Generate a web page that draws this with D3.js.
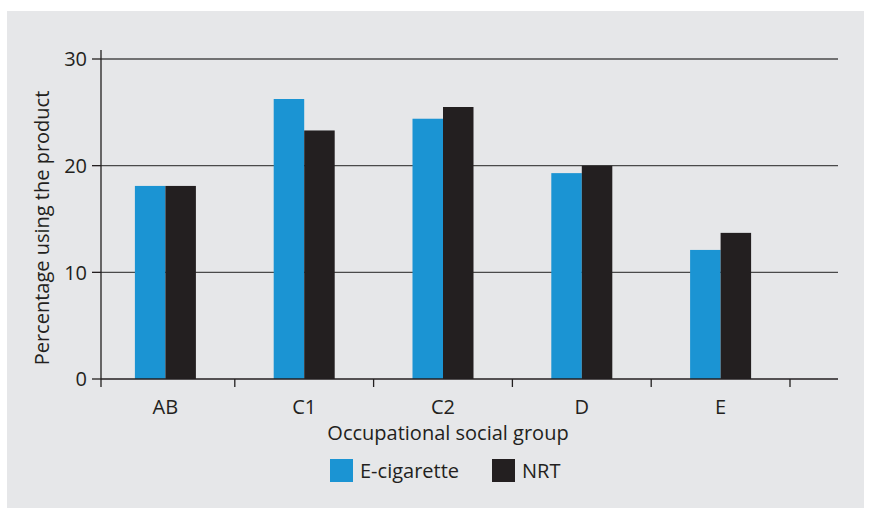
<!DOCTYPE html>
<html><head><meta charset="utf-8">
<script src="https://cdn.jsdelivr.net/npm/d3@7"></script>
<style>body{margin:0;background:#fff}svg{display:block}text{font-family:"Open Sans",sans-serif;fill:#231f20}</style>
</head><body><svg id="c" width="871" height="513"></svg>
<script>
const categories = ["AB","C1","C2","D","E"];
const seriesNames = ["E-cigarette","NRT"];
const ecig = [18.1, 26.25, 24.4, 19.3, 12.1];
const nrt = [18.1, 23.3, 25.5, 20.0, 13.7];
const yTicks = [0,10,20,30];
const colors = ["#1b94d3","#231f20"];

const svg = d3.select("#c");
svg.append("rect").attr("x",7).attr("y",11).attr("width",857).attr("height",497).attr("fill","#e6e7e9");

const x0 = d3.scaleBand().domain(categories).range([96,790]);
const x1 = d3.scaleBand().domain(seriesNames).range([-30.5,30.5]);
const y = d3.scaleLinear().domain([0,30]).range([379,59]);
const axisL = 101, axisR = 838;
const fs = 20;

// gridlines
svg.append("g").selectAll("line").data(yTicks.filter(d=>d>0)).join("line")
  .attr("x1",axisL).attr("x2",axisR).attr("y1",d=>y(d)).attr("y2",d=>y(d))
  .attr("stroke","#4a4a4a").attr("stroke-width",1.3);

// bars
const data = categories.map((c,i)=>({c, vals:[ecig[i], nrt[i]]}));
const g = svg.append("g").selectAll("g").data(data).join("g")
  .attr("transform",d=>`translate(${x0(d.c)+x0.bandwidth()/2},0)`);
g.selectAll("rect").data(d=>d.vals.map((v,j)=>({v,s:seriesNames[j],j}))).join("rect")
  .attr("x",d=>x1(d.s)).attr("width",x1.bandwidth()).attr("y",d=>y(d.v)).attr("height",d=>y(0)-y(d.v))
  .attr("fill",d=>colors[d.j]);

// x axis line
svg.append("line").attr("x1",axisL).attr("x2",axisR).attr("y1",y(0)).attr("y2",y(0)).attr("stroke","#231f20").attr("stroke-width",1.3);
// y axis line
svg.append("line").attr("x1",axisL).attr("x2",axisL).attr("y1",50).attr("y2",387).attr("stroke","#231f20").attr("stroke-width",1.3);
// y ticks
const yt = svg.append("g").selectAll("g").data(yTicks).join("g");
yt.append("line").attr("x1",92).attr("x2",axisL).attr("y1",d=>y(d)).attr("y2",d=>y(d)).attr("stroke","#231f20").attr("stroke-width",1.3);
yt.append("text").attr("x",87).attr("y",d=>y(d)).attr("dy","0.36em").attr("text-anchor","end").attr("font-size",fs).text(d=>d);
// x ticks at band boundaries (skip first, which coincides with y axis)
const bounds = categories.slice(1).map(c=>x0(c)).concat([x0.range()[1]]);
svg.append("g").selectAll("line").data(bounds).join("line")
  .attr("x1",d=>d).attr("x2",d=>d).attr("y1",y(0)).attr("y2",387).attr("stroke","#231f20").attr("stroke-width",1.3);
// x labels
svg.append("g").selectAll("text").data(categories).join("text")
  .attr("x",d=>x0(d)+x0.bandwidth()/2).attr("y",414).attr("text-anchor","middle").attr("font-size",fs).text(d=>d);
// axis titles
svg.append("text").attr("x",448).attr("y",440).attr("text-anchor","middle").attr("font-size",fs).text("Occupational social group");
svg.append("text").attr("transform","translate(49,228) rotate(-90)").attr("text-anchor","middle").attr("font-size",fs).text("Percentage using the product");

// legend
const legX = [330, 492];
const lg = svg.append("g").selectAll("g").data(seriesNames).join("g")
  .attr("transform",(d,i)=>`translate(${legX[i]},459)`);
lg.append("rect").attr("width",23).attr("height",23).attr("fill",(d,i)=>colors[i]);
lg.append("text").attr("x",30).attr("y",19).attr("font-size",fs).text(d=>d);
</script></body></html>
